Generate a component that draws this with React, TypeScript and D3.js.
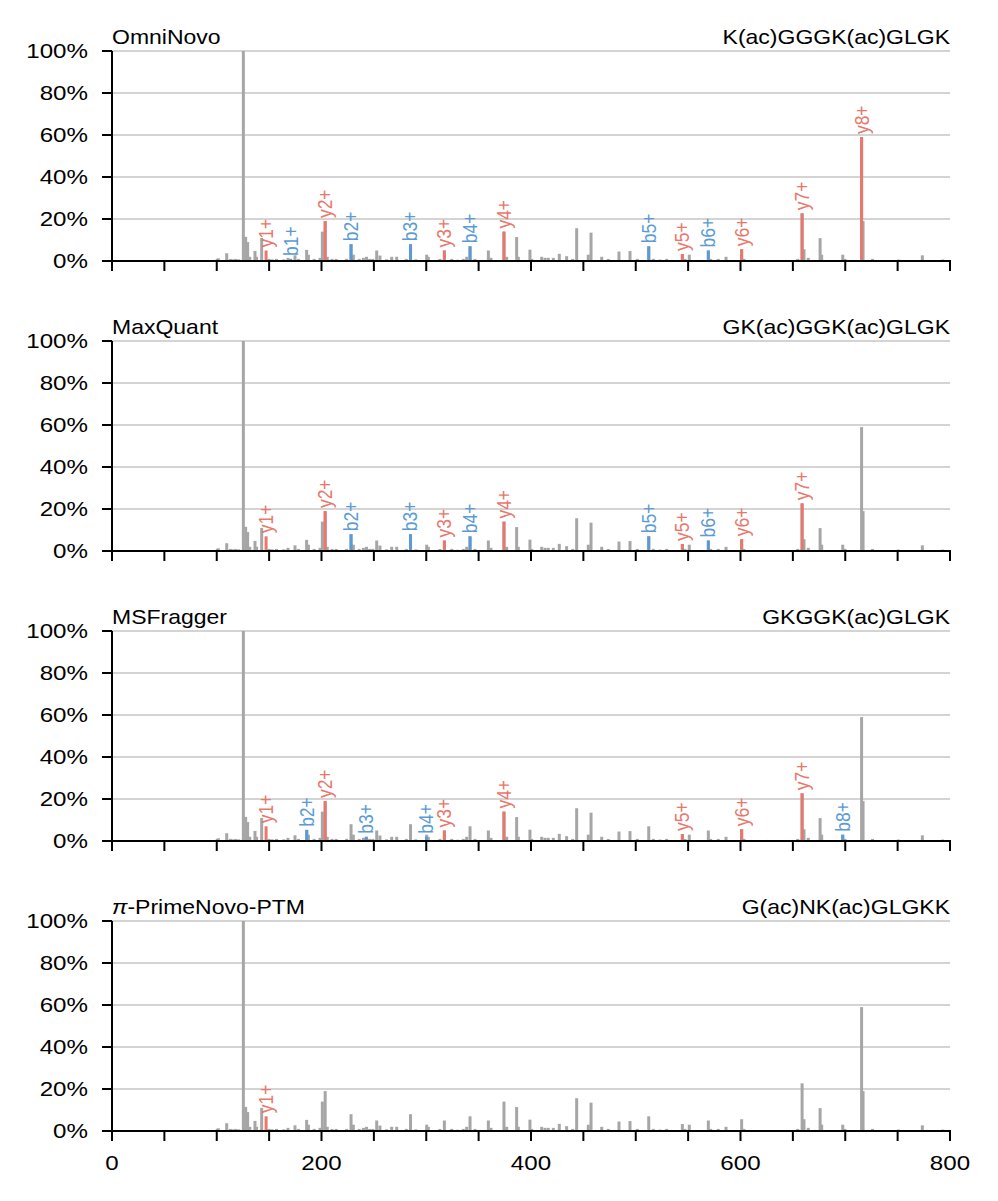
import React from 'react';
import * as d3 from 'd3';

const W = 998;
const H = 1201;

// m/z axis ticks
const mzTicks = d3.range(0, 801, 50);
const mzLabels = [0, 200, 400, 600, 800];
const pctTicks = [0, 20, 40, 60, 80, 100];

// shared spectrum (m/z, relative intensity %)
const peakMz = [
  100.5, 101.5, 109.5, 113, 115, 118, 121, 125.4, 127.6, 129.5, 131.5, 136.5, 138, 142.9, 150, 153, 157,
  164, 168, 174.7, 178, 185.8, 187.5, 193, 198.6, 200.8, 203.5, 205.5, 210, 214, 224, 228.2, 230.4, 236,
  240, 243, 246, 249, 252.7, 255.8, 262, 267, 271.8, 281, 285, 290, 300.4, 302, 313, 317.3, 324.3, 330,
  335.4, 338.6, 341.8, 346.5, 359.3, 361.8, 374.2, 376.8, 386.3, 387.9, 399, 400.7, 410.2, 413.4, 416.5,
  421.3, 427, 434, 439.8, 443.6, 454.7, 457.3, 467.5, 473.8, 484, 494.5, 501.5, 512.4, 516.8, 523, 529.5,
  544.5, 547, 551.1, 569.3, 571.5, 578.8, 586.2, 601.1, 603.3, 625, 644, 654.6, 658.8, 660.6, 664.7, 676,
  677.5, 697.6, 699.8, 715.6, 717, 726, 750.7, 773.6, 793,
];
const peakInt = [
  1, 1.3, 3.7, 1, 0.8, 1, 0.8, 100, 11.5, 9, 2, 4.8, 2, 11, 1, 0.8, 1,
  0.8, 1.5, 2.7, 1, 5.3, 3, 1, 1.5, 14, 19, 2, 1, 1, 1, 8, 3, 1,
  1.5, 2, 1, 1, 5, 2.6, 0.8, 2, 2, 1, 8, 0.8, 3, 2, 1, 5, 1, 0.6,
  1, 2, 7, 1, 5, 1.5, 14, 2, 11.4, 2, 5.4, 1, 2, 1.5, 1.5,
  1.5, 3.4, 2.3, 1, 15.6, 3, 13.5, 2, 1, 4.5, 4.7, 1, 7, 1, 0.7, 1,
  3.3, 1, 3, 5, 1, 1, 2, 5.6, 1, 0.5, 0.5, 1, 22.7, 5.6, 1.5, 10.9,
  3, 3, 1, 59, 19, 1, 0.7, 2.7, 0.7,
];

// annotated fragment ions per tool: [label, m/z, intensity %]
const omniIons: [string, number, number][] = [
  ['y1+', 147.1, 5], ['b1+', 170.5, 1], ['y2+', 203.5, 19], ['b2+', 228.2, 8], ['b3+', 285, 8],
  ['y3+', 317.3, 5], ['b4+', 341.8, 7], ['y4+', 374.2, 14], ['b5+', 512.4, 7], ['y5+', 544.5, 3.3],
  ['b6+', 569.3, 5], ['y6+', 601.1, 5.6], ['y7+', 658.8, 22.7], ['y8+', 715.6, 59],
];
const maxQuantIons: [string, number, number][] = [
  ['y1+', 147.1, 7], ['y2+', 203.5, 19], ['b2+', 228.2, 8], ['b3+', 285, 8], ['y3+', 317.3, 5],
  ['b4+', 341.8, 7], ['y4+', 374.2, 14], ['b5+', 512.4, 7], ['y5+', 544.5, 3.3], ['b6+', 569.3, 5],
  ['y6+', 601.1, 5.6], ['y7+', 658.8, 22.7],
];
const msFraggerIons: [string, number, number][] = [
  ['y1+', 147.1, 7], ['b2+', 186, 5.3], ['y2+', 203.5, 19], ['b3+', 242.7, 2], ['b4+', 300.2, 2],
  ['y3+', 317.3, 5], ['y4+', 374.2, 14], ['y5+', 544.5, 3.3], ['y6+', 601.1, 5.6], ['y7+', 658.8, 22.7],
  ['b8+', 697.6, 3],
];
const primeNovoIons: [string, number, number][] = [['y1+', 147.1, 7]];

const toolNames = ['OmniNovo', 'MaxQuant', 'MSFragger', 'PrimeNovo'];
const peptides = ['K(ac)GGGK(ac)GLGK', 'GK(ac)GGK(ac)GLGK', 'GKGGK(ac)GLGK', 'G(ac)NK(ac)GLGKK'];
const ionSets = [omniIons, maxQuantIons, msFraggerIons, primeNovoIons];

const FONT = '"Liberation Sans", Arial, Helvetica, sans-serif';
const GRAY = '#a6a6a6';
const RED = '#e8776c';
const BLUE = '#5b9bd5';
const SX = 1.15; // the figure's text is a bit wider than plain Arial

const x = d3.scaleLinear().domain([0, 800]).range([112, 950]);
const PANEL_H = 210;
const PANEL_GAP = 290;
const FIRST_TOP = 51;

const at = (tx: number, ty: number, rot = '') => `translate(${tx},${ty}) scale(${SX},1)${rot}`;

function Panel({ idx }: { idx: number }) {
  const top = FIRST_TOP + idx * PANEL_GAP;
  const y = d3.scaleLinear().domain([0, 100]).range([top + PANEL_H, top]);
  const ions = ionSets[idx];
  const last = idx === 3;
  return (
    <g>
      {pctTicks.filter(d => d > 0).map(d => (
        <line key={'g' + d} x1={x(0)} x2={x(800)} y1={y(d)} y2={y(d)} stroke="#d4d4d4" strokeWidth={2} />
      ))}
      {peakMz.map((m, i) => (
        <line key={'p' + i} x1={x(m)} x2={x(m)} y1={y(0)} y2={y(peakInt[i])} stroke={GRAY} strokeWidth={3} />
      ))}
      {ions.map(([lab, m, v]) => {
        const c = lab[0] === 'y' ? RED : BLUE;
        const yt = y(v);
        return (
          <g key={lab}>
            <line x1={x(m)} x2={x(m)} y1={y(0)} y2={yt} stroke={c} strokeWidth={3} />
            <text transform={at(x(m), yt - 3, ' rotate(-90)')} fill={c} fontSize={17.5}
              fontFamily={FONT} dominantBaseline="central">{lab}</text>
          </g>
        );
      })}
      {/* axes */}
      <line x1={x(0)} x2={x(0)} y1={y(0)} y2={y(100)} stroke="#000" strokeWidth={2} />
      <line x1={x(0) - 1} x2={x(800) + 1} y1={y(0)} y2={y(0)} stroke="#000" strokeWidth={2} />
      {pctTicks.map(d => (
        <g key={'yt' + d}>
          <line x1={x(0) - 10} x2={x(0)} y1={y(d)} y2={y(d)} stroke="#000" strokeWidth={2} />
          <text transform={at(88, y(d))} textAnchor="end" dominantBaseline="central" fontSize={21} fontFamily={FONT}>{d}%</text>
        </g>
      ))}
      {mzTicks.map(d => (
        <line key={'xt' + d} x1={x(d)} x2={x(d)} y1={y(0)} y2={y(0) + 10} stroke="#000" strokeWidth={2} />
      ))}
      {last && mzLabels.map(d => (
        <text key={'xl' + d} transform={at(x(d), y(0) + 39)} textAnchor="middle" fontSize={21} fontFamily={FONT}>{d}</text>
      ))}
      <text transform={at(x(0), top - 7)} fontSize={20} fontFamily={FONT}>
        {idx === 3 ? (<><tspan fontStyle="italic">π</tspan>-PrimeNovo-PTM</>) : toolNames[idx]}
      </text>
      <text transform={at(x(800), top - 7)} textAnchor="end" fontSize={20} fontFamily={FONT}>{peptides[idx]}</text>
    </g>
  );
}

export default function App() {
  return (
    <svg width={W} height={H} style={{ position: 'absolute', left: 0, top: 0, background: '#fff' }}>
      <rect width={W} height={H} fill="#fff" />
      {[0, 1, 2, 3].map(i => <Panel key={i} idx={i} />)}
    </svg>
  );
}
